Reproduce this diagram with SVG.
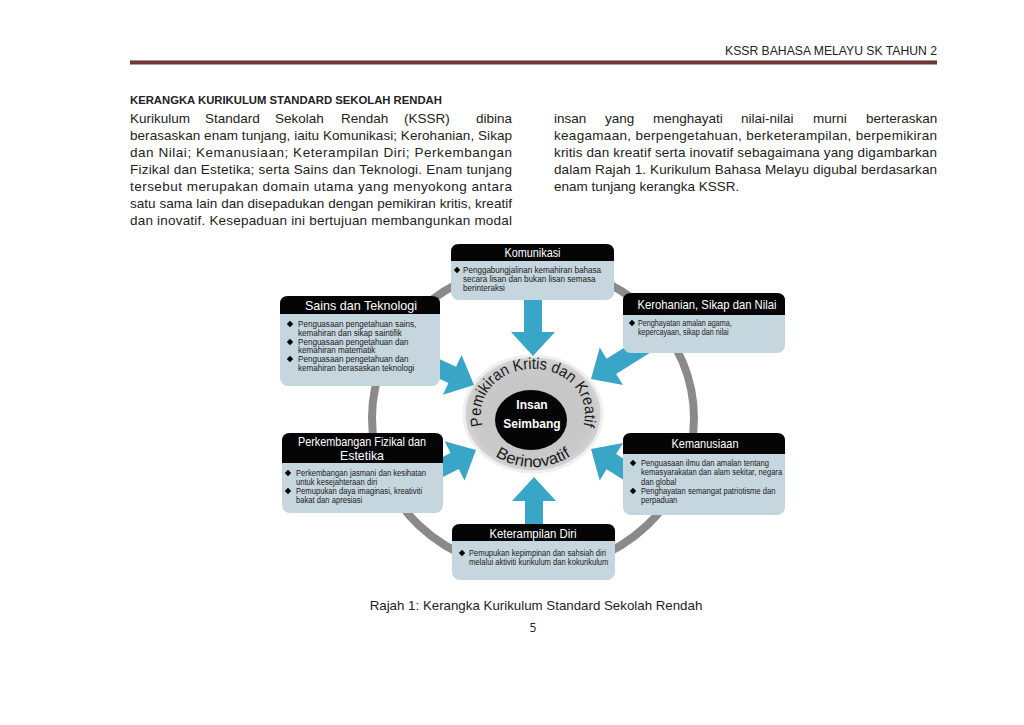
<svg xmlns="http://www.w3.org/2000/svg" width="1024" height="725" viewBox="0 0 1024 725">
<style>
.page{font-family:"Liberation Sans",Arial,sans-serif;fill:#222;}
.body{font-size:13.5px;}
.bt{font-family:"Liberation Sans",Arial,sans-serif;font-size:9px;fill:#1a1a1a;}
.ttl{font-family:"Liberation Sans",Arial,sans-serif;font-size:13px;fill:#fff;text-anchor:middle;}
.boxbody{fill:#c6d6de;}
.boxhead{fill:#050505;}
.arrow{fill:#3aa6c7;}
.curve{font-family:"Liberation Sans",Arial,sans-serif;font-size:16px;fill:#1a1a1a;}
</style>
<defs>
<path id="arr" d="M0,0 L-24,-22 L-24,-9 L-72,-9 L-72,9 L-24,9 L-24,22 Z"/>
<path id="dia" d="M0,-3.2 L3.2,0 L0,3.2 L-3.2,0 Z" fill="#000"/>
<path id="topArc" d="M482.8,425.6 A52,45 0 1,1 583.2,425.6"/>
<path id="botArc" d="M479.3,440.5 A62,53 0 0,0 586.7,440.5"/>
<radialGradient id="diskG" cx="50%" cy="50%" r="50%">
<stop offset="0" stop-color="#c2c2c2"/>
<stop offset="0.88" stop-color="#cacaca"/>
<stop offset="1" stop-color="#d6d6d6"/>
</radialGradient>
</defs>
<rect width="1024" height="725" fill="#fff"/>

<g id="page-header" class="page">
<text x="937" y="55" font-size="12.2" text-anchor="end">KSSR BAHASA MELAYU SK TAHUN 2</text>
<rect x="130" y="60" width="807" height="4.5" fill="#6d3637"/>
<rect x="130" y="60" width="807" height="1" fill="#b88a8a"/>
</g>

<g id="page-text" class="page body">
<text x="130" y="104" font-size="11.3" font-weight="bold">KERANGKA KURIKULUM STANDARD SEKOLAH RENDAH</text>
<text y="123"><tspan x="130">Kurikulum</tspan><tspan x="205">Standard</tspan><tspan x="275">Sekolah</tspan><tspan x="341">Rendah</tspan><tspan x="404">(KSSR)</tspan><tspan x="476">dibina</tspan></text>
<text x="130" y="140" textLength="382" lengthAdjust="spacing">berasaskan enam tunjang, iaitu Komunikasi; Kerohanian, Sikap</text>
<text x="130" y="157" textLength="382" lengthAdjust="spacing">dan Nilai; Kemanusiaan; Keterampilan Diri; Perkembangan</text>
<text x="130" y="174" textLength="382" lengthAdjust="spacing">Fizikal dan Estetika;  serta Sains dan Teknologi.  Enam tunjang</text>
<text x="130" y="191" textLength="382" lengthAdjust="spacing">tersebut merupakan domain utama yang menyokong antara</text>
<text x="130" y="208" textLength="382" lengthAdjust="spacing">satu sama lain dan disepadukan dengan pemikiran kritis, kreatif</text>
<text x="130" y="225" textLength="382" lengthAdjust="spacing">dan inovatif. Kesepaduan ini bertujuan membangunkan modal</text>
<text y="123"><tspan x="554">insan</tspan><tspan x="605">yang</tspan><tspan x="653">menghayati</tspan><tspan x="741">nilai-nilai</tspan><tspan x="813">murni</tspan><tspan x="866">berteraskan</tspan></text>
<text x="554" y="140" textLength="383" lengthAdjust="spacing">keagamaan, berpengetahuan, berketerampilan, berpemikiran</text>
<text x="554" y="157" textLength="383" lengthAdjust="spacing">kritis dan kreatif serta inovatif sebagaimana yang digambarkan</text>
<text x="554" y="174" textLength="383" lengthAdjust="spacing">dalam Rajah 1. Kurikulum Bahasa Melayu digubal berdasarkan</text>
<text x="554" y="191">enam tunjang kerangka KSSR.</text>
<text x="536" y="610" font-size="13.3" text-anchor="middle">Rajah 1: Kerangka Kurikulum Standard Sekolah Rendah</text>
<text x="533" y="632" font-size="12" text-anchor="middle" font-family="Open Sans, sans-serif">5</text>
</g>

<g id="ring">
<ellipse cx="533" cy="418" rx="161" ry="152" fill="none" stroke="#8a8a8a" stroke-width="8"/>
</g>

<g id="node-center">
<ellipse cx="533" cy="414" rx="69" ry="58" fill="url(#diskG)" stroke="#efefef" stroke-width="3"/>
<ellipse cx="531" cy="420" rx="36" ry="30" fill="#050505"/>
<text x="532" y="409" font-family="Liberation Sans, Arial, sans-serif" font-weight="bold" font-size="12" fill="#fff" text-anchor="middle">Insan</text>
<text x="532" y="427.5" font-family="Liberation Sans, Arial, sans-serif" font-weight="bold" font-size="12" fill="#fff" text-anchor="middle">Seimbang</text>
<text class="curve"><textPath href="#topArc" startOffset="50%" text-anchor="middle" textLength="176" lengthAdjust="spacingAndGlyphs">Pemikiran Kritis dan Kreatif</textPath></text>
<text class="curve"><textPath href="#botArc" startOffset="50%" text-anchor="middle" textLength="80" lengthAdjust="spacingAndGlyphs">Berinovatif</textPath></text>
</g>

<g id="connectors" class="arrow">
<use href="#arr" transform="translate(533,356) rotate(90)"/>
<use href="#arr" transform="translate(534,477) rotate(-90)"/>
<use href="#arr" transform="translate(474,385) rotate(25)"/>
<use href="#arr" transform="translate(591,379) rotate(148)"/>
<use href="#arr" transform="translate(476,450) rotate(-27)"/>
<use href="#arr" transform="translate(591,449) rotate(212)"/>
</g>

<g id="node-komunikasi">
<rect class="boxbody" x="451" y="244" width="163" height="56" rx="8"/>
<path class="boxhead" d="M451,261 V252 Q451,244 459,244 H606 Q614,244 614,252 V261 Z"/>
<text class="ttl" x="532.5" y="257" textLength="56" lengthAdjust="spacingAndGlyphs">Komunikasi</text>
<use href="#dia" x="457" y="270"/>
<g transform="translate(463 0) scale(0.9 1) translate(-463 0)">
<text class="bt" x="463" y="273">Penggabungjalinan kemahiran bahasa</text>
<text class="bt" x="463" y="282">secara lisan dan bukan lisan semasa</text>
<text class="bt" x="463" y="291">berinteraksi</text>
</g>
</g>

<g id="node-sains">
<rect class="boxbody" x="280" y="296" width="160" height="90" rx="8"/>
<path class="boxhead" d="M280,314 V304 Q280,296 288,296 H432 Q440,296 440,304 V314 Z"/>
<text class="ttl" x="361" y="310" textLength="112" lengthAdjust="spacingAndGlyphs">Sains dan Teknologi</text>
<use href="#dia" x="290" y="324"/>
<use href="#dia" x="290" y="342"/>
<use href="#dia" x="290" y="359"/>
<g transform="translate(298 0) scale(0.9 1) translate(-298 0)">
<text class="bt" x="298" y="327">Penguasaan pengetahuan sains,</text>
<text class="bt" x="298" y="336">kemahiran dan sikap saintifik</text>
<text class="bt" x="298" y="345">Penguasaan pengetahuan dan</text>
<text class="bt" x="298" y="353.5">kemahiran matematik</text>
<text class="bt" x="298" y="362">Penguasaan pengetahuan dan</text>
<text class="bt" x="298" y="371">kemahiran berasaskan teknologi</text>
</g>
</g>

<g id="node-kerohanian">
<rect class="boxbody" x="623" y="293" width="162" height="60" rx="8"/>
<path class="boxhead" d="M623,315 V301 Q623,293 631,293 H777 Q785,293 785,301 V315 Z"/>
<text class="ttl" x="707" y="308.5" textLength="139" lengthAdjust="spacingAndGlyphs">Kerohanian, Sikap dan Nilai</text>
<use href="#dia" x="632" y="323"/>
<g transform="translate(638 0) scale(0.8 1) translate(-638 0)">
<text class="bt" x="638" y="326">Penghayatan amalan agama,</text>
<text class="bt" x="638" y="335">kepercayaan, sikap dan nilai</text>
</g>
</g>

<g id="node-perkembangan">
<rect class="boxbody" x="282" y="433" width="161" height="80" rx="8"/>
<path class="boxhead" d="M282,463 V441 Q282,433 290,433 H435 Q443,433 443,441 V463 Z"/>
<text class="ttl" x="362" y="445.5" font-size="11.5" textLength="128" lengthAdjust="spacingAndGlyphs">Perkembangan Fizikal dan</text>
<text class="ttl" x="362" y="460" font-size="11.5" textLength="44" lengthAdjust="spacingAndGlyphs">Estetika</text>
<use href="#dia" x="288" y="473"/>
<use href="#dia" x="288" y="491"/>
<g transform="translate(296 0) scale(0.85 1) translate(-296 0)">
<text class="bt" x="296" y="476">Perkembangan jasmani dan kesihatan</text>
<text class="bt" x="296" y="485">untuk kesejahteraan diri</text>
<text class="bt" x="296" y="494">Pemupukan daya imaginasi, kreativiti</text>
<text class="bt" x="296" y="503">bakat dan apresiasi</text>
</g>
</g>

<g id="node-kemanusiaan">
<rect class="boxbody" x="623" y="433" width="162" height="82" rx="8"/>
<path class="boxhead" d="M623,454 V441 Q623,433 631,433 H777 Q785,433 785,441 V454 Z"/>
<text class="ttl" x="705" y="448" textLength="67" lengthAdjust="spacingAndGlyphs">Kemanusiaan</text>
<use href="#dia" x="633" y="463"/>
<use href="#dia" x="633" y="491"/>
<g transform="translate(641 0) scale(0.845 1) translate(-641 0)">
<text class="bt" x="641" y="466">Penguasaan ilmu dan amalan tentang</text>
<text class="bt" x="641" y="475.5">kemasyarakatan dan alam sekitar, negara</text>
<text class="bt" x="641" y="485">dan global</text>
<text class="bt" x="641" y="494">Penghayatan semangat patriotisme dan</text>
<text class="bt" x="641" y="503.5">perpaduan</text>
</g>
</g>

<g id="node-keterampilan">
<rect class="boxbody" x="452" y="524" width="163" height="56" rx="8"/>
<path class="boxhead" d="M452,541 V532 Q452,524 460,524 H607 Q615,524 615,532 V541 Z"/>
<text class="ttl" x="533" y="537.5" textLength="87" lengthAdjust="spacingAndGlyphs">Keterampilan Diri</text>
<use href="#dia" x="462" y="553"/>
<g transform="translate(469 0) scale(0.845 1) translate(-469 0)">
<text class="bt" x="469" y="556">Pemupukan kepimpinan dan sahsiah diri</text>
<text class="bt" x="469" y="565">melalui aktiviti kurikulum dan kokurikulum</text>
</g>
</g>
</svg>
